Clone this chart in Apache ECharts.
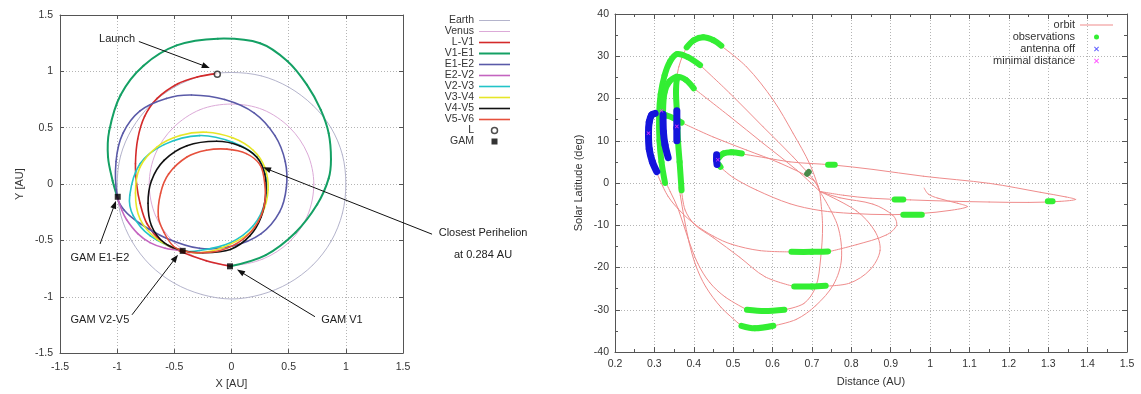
<!DOCTYPE html>
<html><head><meta charset="utf-8">
<script src="https://cdn.jsdelivr.net/npm/echarts@6/dist/echarts.min.js"></script>
<style>html,body{margin:0;padding:0;background:#fff}#c{width:1141px;height:394px}</style>
</head><body><div id="c"></div>
<script>
const FONT = 'Liberation Sans, Arial, sans-serif';

// ---------- tick labels ----------
const auTicks = [-1.5, -1, -0.5, 0, 0.5, 1, 1.5];
const distTicks = [0.2, 0.3, 0.4, 0.5, 0.6, 0.7, 0.8, 0.9, 1.0, 1.1, 1.2, 1.3, 1.4, 1.5];
const latTicks = [-40, -30, -20, -10, 0, 10, 20, 30, 40];

// ---------- left chart: orbits (X,Y in AU) ----------
const legNames = ['Earth','Venus','L-V1','V1-E1','E1-E2','E2-V2','V2-V3','V3-V4','V4-V5','V5-V6'];
const earthOrbit = [[1.00,0.00],[0.97,0.26],[0.87,0.50],[0.71,0.70],[0.50,0.86],[0.26,0.96],[0.00,0.99],[-0.26,0.96],[-0.50,0.86],[-0.71,0.70],[-0.87,0.49],[-0.97,0.25],[-1.00,-0.01],[-0.97,-0.27],[-0.87,-0.51],[-0.71,-0.72],[-0.50,-0.88],[-0.26,-0.98],[0.00,-1.02],[0.26,-0.98],[0.50,-0.88],[0.71,-0.72],[0.87,-0.51],[0.97,-0.26],[1.00,0.00]];
const venusOrbit = [[0.72,0.00],[0.665,0.27],[0.51,0.50],[0.275,0.66],[0.00,0.71],[-0.275,0.66],[-0.51,0.50],[-0.665,0.27],[-0.72,0.00],[-0.665,-0.28],[-0.51,-0.51],[-0.275,-0.665],[0.00,-0.72],[0.275,-0.665],[0.51,-0.51],[0.665,-0.28],[0.72,0.00]];
const legLV1 = [[-0.13,0.98],[-0.30,0.95],[-0.47,0.89],[-0.65,0.76],[-0.76,0.60],[-0.82,0.40],[-0.84,0.18],[-0.83,0.00],[-0.80,-0.17],[-0.74,-0.35],[-0.61,-0.51],[-0.44,-0.60],[-0.22,-0.68],[-0.01,-0.73]];
const legV1E1 = [[-0.01,-0.73],[0.30,-0.63],[0.56,-0.43],[0.75,-0.18],[0.85,0.05],[0.87,0.22],[0.85,0.45],[0.78,0.66],[0.66,0.88],[0.49,1.09],[0.25,1.25],[-0.12,1.29],[-0.48,1.23],[-0.77,1.05],[-0.97,0.79],[-1.07,0.47],[-1.08,0.24],[-1.04,0.03],[-1.00,-0.11]];
const legE1E2 = [[-1.00,-0.11],[-1.01,0.20],[-0.95,0.45],[-0.80,0.65],[-0.57,0.76],[-0.35,0.79],[-0.06,0.75],[0.20,0.63],[0.38,0.43],[0.47,0.20],[0.48,-0.03],[0.42,-0.25],[0.26,-0.44],[0.01,-0.55],[-0.28,-0.57],[-0.57,-0.48],[-0.80,-0.35],[-0.94,-0.23],[-1.00,-0.11]];
const legE2V2 = [[-1.00,-0.11],[-0.96,-0.23],[-0.917,-0.317],[-0.82,-0.44],[-0.713,-0.52],[-0.58,-0.57],[-0.43,-0.59]];
const legV2V3 = [[-0.43,-0.59],[-0.28,-0.59],[-0.01,-0.52],[0.19,-0.37],[0.29,-0.17],[0.30,0.06],[0.22,0.24],[0.01,0.37],[-0.28,0.43],[-0.59,0.35],[-0.80,0.18],[-0.89,-0.10],[-0.86,-0.28],[-0.71,-0.46],[-0.43,-0.59]];
const legV3V4 = [[-0.43,-0.59],[-0.28,-0.61],[-0.07,-0.56],[0.16,-0.43],[0.27,-0.26],[0.32,-0.05],[0.29,0.15],[0.19,0.30],[0.01,0.41],[-0.22,0.46],[-0.45,0.43],[-0.65,0.33],[-0.80,0.15],[-0.84,-0.08],[-0.80,-0.31],[-0.65,-0.49],[-0.43,-0.59]];
const legV4V5 = [[-0.43,-0.59],[-0.25,-0.61],[-0.01,-0.58],[0.16,-0.46],[0.26,-0.29],[0.30,-0.08],[0.29,0.09],[0.22,0.24],[0.07,0.34],[-0.13,0.38],[-0.39,0.34],[-0.59,0.21],[-0.70,0.03],[-0.73,-0.17],[-0.70,-0.37],[-0.59,-0.52],[-0.43,-0.59]];
const legV5V6 = [[-0.43,-0.59],[-0.51,-0.55],[-0.59,-0.43],[-0.64,-0.29],[-0.62,-0.08],[-0.55,0.09],[-0.39,0.24],[-0.22,0.30],[-0.04,0.31],[0.13,0.27],[0.25,0.17],[0.29,0.01],[0.29,-0.17],[0.23,-0.34],[0.10,-0.49],[-0.10,-0.59],[-0.30,-0.61],[-0.43,-0.59]];
const launchPoint = [[-0.124,0.975]];
const gamPoints = [[-0.995,-0.113],[-0.427,-0.593],[-0.013,-0.73]];

// annotations (data coords of left chart)
const annotations = [
  {text:'Launch', at:[-1.0,1.29], from:[-0.81,1.265], to:[-0.19,1.03]},
  {text:'Closest Perihelion', at:[2.2,-0.436], from:[1.754,-0.445], to:[0.276,0.148]},
  {text:'at 0.284 AU', at:[2.2,-0.628]},
  {text:'GAM E1-E2', at:[-1.151,-0.654], from:[-1.15,-0.532], to:[-1.01,-0.148]},
  {text:'GAM V2-V5', at:[-1.151,-1.203], from:[-0.87,-1.16], to:[-0.468,-0.628]},
  {text:'GAM V1', at:[0.966,-1.203], from:[0.73,-1.177], to:[0.048,-0.759]}
];

// ---------- right chart: distance (AU) vs solar latitude (deg) ----------
const orbitLoopLong = [[0.522,6.9],[0.58,6.0],[0.644,5.0],[0.70,4.6],[0.75,4.3],[0.856,3.2],[0.983,1.6],[1.152,-0.1],[1.28,-2.2],[1.345,-3.3],[1.37,-3.9],[1.33,-4.35],[1.25,-4.6],[1.15,-4.5],[1.05,-4.3],[0.95,-4.0],[0.85,-3.6],[0.78,-2.9],[0.72,-2.0]];
const orbitLoopEarth = [[0.466,3.9],[0.50,1.3],[0.56,-1.7],[0.644,-4.9],[0.72,-6.5],[0.80,-7.2],[0.90,-7.5],[0.98,-7.2],[1.05,-6.5],[1.095,-5.6],[1.07,-4.8],[1.02,-3.6],[0.995,-2.6],[0.985,-1.2]];
const orbitLoop16 = [[0.72,-2.0],[0.771,-3.5],[0.855,-5.0],[0.906,-7.7],[0.915,-10.0],[0.889,-12.3],[0.813,-14.6],[0.741,-16.3]];
const orbitLoop24 = [[0.72,-2.0],[0.813,-6.6],[0.86,-11.4],[0.873,-16.0],[0.847,-20.6],[0.796,-23.7],[0.735,-24.4]];
const orbitLoop30 = [[0.72,-2.0],[0.727,-10.0],[0.722,-18.0],[0.71,-24.5],[0.68,-28.5],[0.63,-30.0]];
const orbitLoop34 = [[0.72,-2.0],[0.765,-10.0],[0.775,-18.0],[0.755,-24.0],[0.71,-29.0],[0.66,-32.3],[0.602,-33.8]];
const orbitIn16 = [[0.648,-16.3],[0.568,-16.0],[0.496,-14.5],[0.45,-12.6],[0.403,-9.8],[0.365,-6.6],[0.335,-3.2],[0.314,0.7],[0.306,2.5]];
const orbitIn24 = [[0.655,-24.5],[0.581,-22.2],[0.517,-17.6],[0.449,-12.9],[0.403,-9.9],[0.378,-6.4],[0.369,-1.7]];
const orbitIn30 = [[0.535,-30.0],[0.48,-27.0],[0.44,-23.5],[0.41,-19.0],[0.385,-13.0],[0.36,-6.0],[0.34,-2.0],[0.327,0.5]];
const orbitIn34 = [[0.521,-33.8],[0.47,-29.5],[0.43,-24.5],[0.405,-19.5],[0.388,-14.0],[0.375,-8.0],[0.366,-3.0],[0.362,-1.0]];
const orbitOut34 = [[0.466,32.7],[0.534,27.5],[0.602,19.6],[0.652,11.8],[0.695,4.4],[0.72,-2.0]];
const orbitOut30 = [[0.416,27.9],[0.492,21.2],[0.576,13.3],[0.652,6.2],[0.712,-0.1],[0.72,-2.0]];
const orbitOut24 = [[0.403,22.2],[0.492,15.7],[0.576,9.4],[0.661,3.1],[0.72,-2.0]];
const orbitOut16 = [[0.369,14.3],[0.449,10.9],[0.534,7.8],[0.619,4.7],[0.703,0.7],[0.72,-2.0]];
const orbitRise34 = [[0.355,24.0],[0.362,27.5],[0.372,30.2],[0.382,32.1]];

const obs34 = [[0.382,32.1],[0.40,33.8],[0.424,34.5],[0.45,33.8],[0.47,32.5]];
const obs30 = [[0.327,0.0],[0.318,5.0],[0.313,10.0],[0.312,16.0],[0.316,21.0],[0.326,25.5],[0.34,28.8],[0.357,30.5],[0.385,29.8],[0.416,27.9]];
const obs24 = [[0.369,-1.7],[0.364,5.0],[0.36,10.0],[0.357,17.0],[0.355,22.0],[0.36,25.0],[0.38,24.4],[0.40,22.4]];
const obs24b = [[0.322,17.0],[0.326,21.5],[0.338,24.0],[0.357,25.2]];
const obs16 = [[0.302,16.4],[0.33,16.0],[0.35,15.3],[0.369,14.3]];
const obs7 = [[0.464,6.0],[0.475,7.0],[0.495,7.3],[0.522,7.0]];
const obsS16 = [[0.648,-16.3],[0.70,-16.3],[0.741,-16.2]];
const obsS24 = [[0.655,-24.5],[0.70,-24.5],[0.735,-24.3]];
const obsS30 = [[0.535,-30.0],[0.58,-30.3],[0.63,-30.0]];
const obsS34 = [[0.521,-33.8],[0.555,-34.4],[0.602,-33.8]];
const obsA = [[0.741,4.3],[0.758,4.3]];
const obsB = [[0.910,-3.9],[0.932,-3.9]];
const obsC = [[0.932,-7.5],[0.979,-7.5]];
const obsD = [[1.299,-4.3],[1.311,-4.3]];
const obsE = [[0.464,4.3],[0.468,3.8]];
const obsDark = [[0.688,2.2],[0.692,2.6]];

const offA = [[0.306,2.7],[0.295,5.0],[0.287,8.0],[0.285,11.8],[0.287,14.5],[0.293,16.1],[0.302,16.5]];
const offB = [[0.322,16.3],[0.323,12.0],[0.327,9.0],[0.335,6.0]];
const offC = [[0.357,17.1],[0.357,13.0],[0.357,10.0]];
const offD = [[0.458,6.7],[0.458,5.5],[0.459,4.4]];

const minDist = [[0.285,11.8],[0.357,13.4],[0.318,17.1],[0.461,5.5]];

// ---------- styling ----------
const legColors = ['#b4b4cc','#dcaad8','#d42a2a','#14a064','#5a5aa8','#c464c0','#22c4c8','#e6e628','#111111','#e6503c'];
const legWidths = [1,1,1.6,2,1.6,1.6,1.6,1.6,1.6,1.6];
const legData = [earthOrbit,venusOrbit,legLV1,legV1E1,legE1E2,legE2V2,legV2V3,legV3V4,legV4V5,legV5V6];
const orbitColor = '#ef8c8c';
const obsColor = '#33ee33';
const offColor = '#1414dc';
const minColor = '#ff33ff';
const XPATH = 'path://M0,1.4L1.4,0L5,3.6L8.6,0L10,1.4L6.4,5L10,8.6L8.6,10L5,6.4L1.4,10L0,8.6L3.6,5Z';
const SQPATH = 'path://M0,0H10V10H0Z';
function barIcon(w) { return 'path://M0,0H31V' + w + 'H0Z'; }

// smooth curve through the data points (chord-length Catmull-Rom segments), positioned by the axes
function curve(name, data, color, width, gi, z) {
  return {
    type:'custom', name, data, coordinateSystem:'cartesian2d', xAxisIndex: gi*2, yAxisIndex: gi*2,
    encode:{x:0, y:1}, clip:true, silent:true, animation:false, z, color, itemStyle:{color},
    renderItem: function (params, api) {
      const i = params.dataIndexInside, n = params.dataInsideLength;
      if (i >= n - 1) return null;
      const P = k => api.coord([api.value(0, k), api.value(1, k)]);
      const closed = n > 3 && api.value(0, 0) === api.value(0, n-1) && api.value(1, 0) === api.value(1, n-1);
      const i0 = i > 0 ? i - 1 : (closed ? n - 2 : 0);
      const i3 = i + 2 < n ? i + 2 : (closed ? 1 : n - 1);
      const p0 = P(i0), p1 = P(i), p2 = P(i + 1), p3 = P(i3);
      const dist = (a, b) => Math.hypot(a[0]-b[0], a[1]-b[1]) || 1e-6;
      const d01 = dist(p0,p1), d12 = dist(p1,p2), d23 = dist(p2,p3);
      const k1 = (i0 === i) ? 0 : d12 / (d01 + d12) / 3;
      const k2 = (i3 === i + 1) ? 0 : d12 / (d12 + d23) / 3;
      return {
        type:'bezierCurve',
        shape:{x1:p1[0], y1:p1[1], x2:p2[0], y2:p2[1],
          cpx1:p1[0] + (p2[0]-p0[0])*k1, cpy1:p1[1] + (p2[1]-p0[1])*k1,
          cpx2:p2[0] - (p3[0]-p1[0])*k2, cpy2:p2[1] - (p3[1]-p1[1])*k2},
        style:{stroke:color, lineWidth:width, fill:null, lineCap:'round', lineJoin:'round'}
      };
    }
  };
}

function axisX(gi, pos, ticks, main, name, extra) {
  const a = {gridIndex: gi, type:'value', position: pos,
    min: ticks[0], max: ticks[ticks.length-1], interval: Math.round((ticks[1]-ticks[0])*1000)/1000,
    axisLine:{show:true, onZero:false, lineStyle:{color:'#555', width:1}},
    axisTick:{show:true, inside:true, length: gi===0?4:5, lineStyle:{color:'#555'}},
    minorTick:{show: gi===1, splitNumber:2, length:3, lineStyle:{color:'#555'}},
    axisLabel:{show: main, color:'#333', fontSize:10.5, fontFamily:FONT, margin: gi===0?9:7},
    splitLine:{show: main, lineStyle:{color:'#b4b4b4', type:[1,2], width:1}},
    minorSplitLine:{show:false}};
  if (name) Object.assign(a, {name, nameLocation:'middle', nameTextStyle:{color:'#333', fontSize:11, fontFamily:FONT}});
  return Object.assign(a, extra||{});
}

const series = [];
legNames.forEach((n,i) => series.push(curve(n, legData[i], legColors[i], legWidths[i], 0, 2)));
series.push({type:'scatter', name:'L', data: launchPoint, xAxisIndex:0, yAxisIndex:0, symbol:'circle', symbolSize:6,
  itemStyle:{color:'#fff', borderColor:'#222', borderWidth:1.5}, z:10, silent:true, animation:false});
series.push({type:'scatter', name:'GAM', data: gamPoints, xAxisIndex:0, yAxisIndex:0, symbol:'rect', symbolSize:6,
  color:'#000', itemStyle:{color:'#000'}, z:10, silent:true, animation:false});

[orbitLoopLong, orbitLoopEarth, orbitLoop16, orbitLoop24, orbitLoop30, orbitLoop34, orbitIn16, orbitIn24, orbitIn30, orbitIn34,
 orbitOut34, orbitOut30, orbitOut24, orbitOut16, orbitRise34].forEach(d => series.push(curve('orbit', d, orbitColor, 1, 1, 2)));
[obs34, obs30, obs24, obs24b, obs16, obs7, obsS16, obsS24, obsS30, obsS34, obsA, obsB, obsC, obsD, obsE]
  .forEach(d => series.push(curve('observations', d, obsColor, 6, 1, 3)));
series.push(curve('observations', obsDark, '#4a8a4a', 6, 1, 3));
[offA, offB, offC, offD].forEach(d => series.push(curve('antenna off', d, offColor, 7, 1, 4)));
series.push({type:'scatter', name:'minimal distance', data: minDist, xAxisIndex:2, yAxisIndex:2, symbol: XPATH, symbolSize:4,
  color:minColor, itemStyle:{color:minColor}, z:6, silent:true, animation:false});

const leftLegendData = legNames.map((n,i) => ({name:n, icon: barIcon(legWidths[i] >= 2 ? 2 : (legWidths[i] > 1 ? 1.6 : 1)), itemStyle:{color: legColors[i]}}))
  .concat([{name:'L', icon:'circle', itemStyle:{color:'#fff', borderColor:'#222', borderWidth:1.5}},
           {name:'GAM', icon: SQPATH, itemStyle:{color:'#000'}}]);

const option = {
  animation:false,
  backgroundColor:'#fff',
  textStyle:{fontFamily:FONT},
  grid:[
    {left:60, top:15, width:343, height:344, show:false},
    {left:615, top:14, width:512, height:338, show:false}
  ],
  xAxis:[
    axisX(0,'bottom',auTicks,true,'X [AU]',{nameGap:11}),
    axisX(0,'top',auTicks,false),
    axisX(1,'bottom',distTicks,true,'Distance (AU)',{nameGap:24}),
    axisX(1,'top',distTicks,false)
  ],
  yAxis:[
    axisX(0,'left',auTicks,true,'Y [AU]',{nameGap:35, axisLabel:{show:true,color:'#333',fontSize:10.5,fontFamily:FONT,margin:7}}),
    axisX(0,'right',auTicks,false),
    axisX(1,'left',latTicks,true,'Solar Latitude (deg)',{nameGap:31, axisLabel:{show:true,color:'#333',fontSize:10.5,fontFamily:FONT,margin:6}}),
    axisX(1,'right',latTicks,false)
  ],
  legend:[
    {orient:'vertical', right:631, top:15, padding:0, itemGap:0, itemWidth:31, itemHeight:6, align:'right', selectedMode:false,
     textStyle:{fontSize:10.5, lineHeight:11, color:'#333', fontFamily:FONT},
     data: leftLegendData},
    {orient:'vertical', right:28, top:19, padding:0, itemGap:0, itemWidth:33, itemHeight:5, align:'right', selectedMode:false,
     textStyle:{fontSize:11, lineHeight:12, color:'#333', fontFamily:FONT},
     data:[{name:'orbit', icon:'path://M0,0H33V1H0Z', itemStyle:{color:orbitColor}},
           {name:'observations', icon:'circle', itemStyle:{color:obsColor}},
           {name:'antenna off', icon:XPATH, itemStyle:{color:'#6060ff'}},
           {name:'minimal distance', icon:XPATH, itemStyle:{color:minColor}}]}
  ],
  series
};

const chart = echarts.init(document.getElementById('c'), null, {renderer:'canvas'});
chart.setOption(option);

// annotations: positioned through the left chart's axes
const g = [];
annotations.forEach(a => {
  const t = chart.convertToPixel({gridIndex:0}, a.at);
  g.push({type:'text', x:t[0], y:t[1], silent:true, z:20,
    style:{text:a.text, fill:'#222', font:'11px ' + FONT, textAlign:'center', textVerticalAlign:'middle'}});
  if (a.from) {
    const p1 = chart.convertToPixel({gridIndex:0}, a.from);
    const p2 = chart.convertToPixel({gridIndex:0}, a.to);
    const dx = p2[0]-p1[0], dy = p2[1]-p1[1], L = Math.hypot(dx,dy);
    const ux = dx/L, uy = dy/L, nx = -uy, ny = ux, hl = 8, hw = 3;
    g.push({type:'line', silent:true, z:20, shape:{x1:p1[0], y1:p1[1], x2:p2[0]-ux*hl*0.8, y2:p2[1]-uy*hl*0.8},
      style:{stroke:'#111', lineWidth:1}});
    g.push({type:'polygon', silent:true, z:20, shape:{points:[[p2[0],p2[1]],[p2[0]-ux*hl+nx*hw, p2[1]-uy*hl+ny*hw],[p2[0]-ux*hl-nx*hw, p2[1]-uy*hl-ny*hw]]},
      style:{fill:'#111'}});
  }
});
chart.setOption({graphic: g});
</script></body></html>
